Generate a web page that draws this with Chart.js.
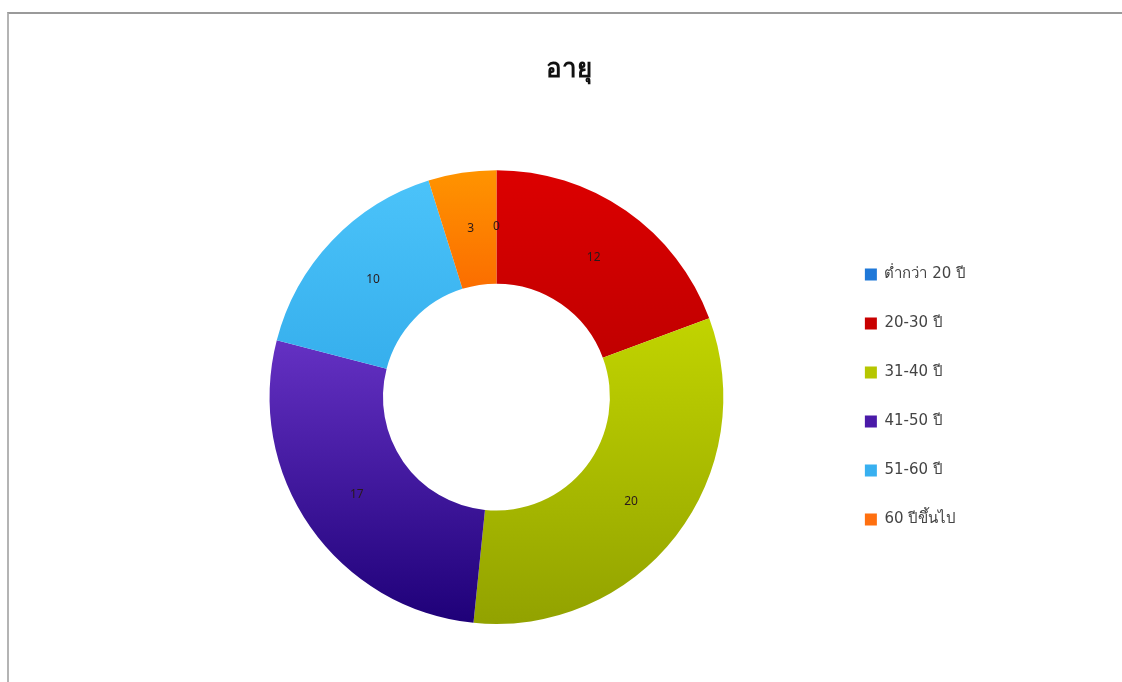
<!DOCTYPE html>
<html>
<head>
<meta charset="utf-8">
<title>อายุ</title>
<script src="https://cdn.jsdelivr.net/npm/chart.js@4.4.0/dist/chart.umd.min.js"></script>
<style>
  html, body { margin: 0; padding: 0; background: #fff; overflow: hidden; }
  /* panel frame, right and bottom edges run past the window */
  #frame {
    position: absolute; left: 7px; top: 12px; width: 1130px; height: 680px;
    border-top: 2px solid #9a9a9a; border-left: 2px solid #b4b4b4;
  }
  #wrap { position: absolute; left: 9px; top: 14px; width: 1113px; height: 668px; }
</style>
</head>
<body>
<div id="frame"></div>
<div id="wrap"><canvas id="visual-age"></canvas></div>
<script>
// age groups and number of people in each
const ageLabels = ['ต่ำกว่า 20 ปี', '20-30 ปี', '31-40 ปี', '41-50 ปี', '51-60 ปี', '60 ปีขึ้นไป'];
const ageCounts = [0, 12, 20, 17, 10, 3];

// flat colours for the legend squares
const legendColors = ['#1f78d8', '#c80000', '#b6c600', '#4a1aa8', '#38b0f0', '#ff7010'];
// slices are shaded top -> bottom
const colorsTop = ['#2a88e8', '#dc0000', '#d8ec00', '#8f4ef0', '#4cc4fa', '#ff9400'];
const colorsBottom = ['#1458b0', '#9a0000', '#92a200', '#1e0078', '#1a94dc', '#f00000'];

const fontFamily = "Tahoma, 'Noto Sans', 'DejaVu Sans', sans-serif";

// writes the count in the middle of each slice
const sliceValues = {
  id: 'sliceValues',
  afterDatasetsDraw(chart) {
    const ctx = chart.ctx;
    const meta = chart.getDatasetMeta(0);
    ctx.save();
    ctx.font = '12px ' + fontFamily;
    ctx.fillStyle = '#2a1a1a';
    ctx.textAlign = 'center';
    ctx.textBaseline = 'middle';
    meta.data.forEach((arc, i) => {
      const pos = arc.tooltipPosition();
      ctx.fillText(String(ageCounts[i]), pos.x, pos.y);
    });
    ctx.restore();
  }
};

function sliceColor(context) {
  const chart = context.chart;
  const area = chart.chartArea;
  const i = context.dataIndex;
  if (!area) return legendColors[i];
  const g = chart.ctx.createLinearGradient(0, area.top, 0, area.bottom);
  g.addColorStop(0, colorsTop[i]);
  g.addColorStop(1, colorsBottom[i]);
  return g;
}

const dataAge = {
  labels: ageLabels,
  datasets: [{
    label: 'อายุ',
    data: ageCounts,
    backgroundColor: sliceColor,
    borderWidth: 0,
    hoverOffset: 0
  }]
};

const configAge = {
  type: 'doughnut',
  data: dataAge,
  plugins: [sliceValues],
  options: {
    responsive: true,
    maintainAspectRatio: false,
    animation: false,
    cutout: '50%',
    layout: { padding: { top: 30, bottom: 58, left: 153, right: 146 } },
    plugins: {
      title: {
        display: true,
        text: 'อายุ',
        color: '#111',
        font: { family: fontFamily, size: 26, weight: 'bold' },
        padding: { top: 10, bottom: 85 }
      },
      legend: {
        position: 'right',
        fullSize: false,
        labels: {
          color: '#444',
          font: { family: "'DejaVu Sans', sans-serif", size: 15 },
          boxWidth: 12,
          boxHeight: 12,
          padding: 34,
          generateLabels(chart) {
            const items = Chart.overrides.doughnut.plugins.legend.labels.generateLabels(chart);
            items.forEach((item, i) => {
              item.fillStyle = legendColors[i];
              item.strokeStyle = legendColors[i];
              item.lineWidth = 0;
              item.hidden = false;
            });
            return items;
          }
        }
      },
      tooltip: { enabled: false }
    }
  }
};

new Chart(document.getElementById('visual-age'), configAge);
</script>
</body>
</html>
